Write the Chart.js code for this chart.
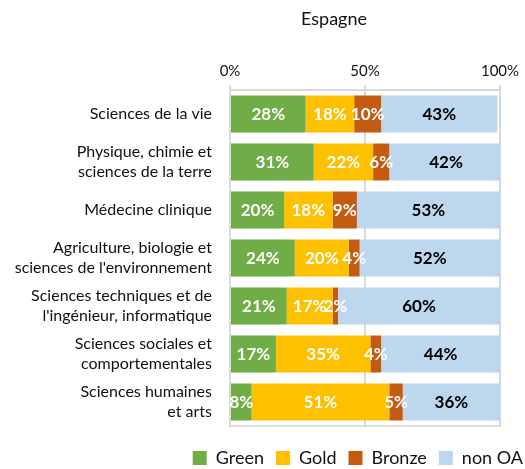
<!DOCTYPE html>
<html>
<head>
<meta charset="utf-8">
<script src="https://cdn.jsdelivr.net/npm/chart.js@4.4.1/dist/chart.umd.min.js"></script>
<style>
  html, body { margin: 0; padding: 0; background: #fff; }
  #wrap { width: 525px; height: 469px; }
</style>
</head>
<body>
<div id="wrap"><canvas id="chart"></canvas></div>
<script>
// open access share per field, Spain (percent of publications)
const fields = [
  ['Sciences de la vie'],
  ['Physique, chimie et', 'sciences de la terre'],
  ['Médecine clinique'],
  ['Agriculture, biologie et', "sciences de l'environnement"],
  ['Sciences techniques et de', "l'ingénieur, informatique"],
  ['Sciences sociales et', 'comportementales'],
  ['Sciences humaines', 'et arts'],
];
const green  = [28, 31, 20, 24, 21, 17, 8];
const gold   = [18, 22, 18, 20, 17, 35, 51];
const bronze = [10, 6, 9, 4, 2, 4, 5];
const nonOA  = [43, 42, 53, 52, 60, 44, 36];
const xTicks = [0, 50, 100];

const FONT = 'Lato, "Open Sans", sans-serif';
const INK = '#111';

// values written in the middle of each segment
const segmentLabels = {
  id: 'segmentLabels',
  afterDatasetsDraw(chart) {
    const { ctx } = chart;
    ctx.save();
    ctx.font = `bold 17px ${FONT}`;
    ctx.textAlign = 'center';
    ctx.textBaseline = 'middle';
    chart.data.datasets.forEach((ds, i) => {
      const meta = chart.getDatasetMeta(i);
      ctx.fillStyle = ds.labelColor;
      meta.data.forEach((bar, j) => {
        ctx.fillText(ds.data[j] + '%', (bar.x + bar.base) / 2, bar.y + 1);
      });
    });
    ctx.restore();
  },
};

// title sits over the bars, a bit left of the plot centre
const topTitle = {
  id: 'topTitle',
  afterDraw(chart, args, opts) {
    const { ctx } = chart;
    ctx.save();
    ctx.font = `18px ${FONT}`;
    ctx.fillStyle = INK;
    ctx.textAlign = 'center';
    ctx.textBaseline = 'middle';
    ctx.fillText(opts.text, opts.x, opts.y);
    ctx.restore();
  },
};

const mk = (label, data, color, labelColor) => ({
  label, data, backgroundColor: color, labelColor,
  borderWidth: 0, barPercentage: 0.77, categoryPercentage: 1,
});

new Chart(document.getElementById('chart'), {
  type: 'bar',
  data: {
    labels: fields,
    datasets: [
      mk('Green', green, '#70AD47', '#fff'),
      mk('Gold', gold, '#FFC000', '#fff'),
      mk('Bronze', bronze, '#C55A11', '#fff'),
      mk('non OA', nonOA, '#BDD7EE', '#000'),
    ],
  },
  options: {
    indexAxis: 'y',
    responsive: true,
    maintainAspectRatio: false,
    animation: false,
    // negative right padding lets the legend run closer to the edge than the plot
    layout: { padding: { top: 40, left: 0, right: -10, bottom: -8 } },
    scales: {
      x: {
        position: 'top',
        stacked: true,
        min: 0,
        max: 100,
        afterBuildTicks: (s) => { s.ticks = xTicks.map((v) => ({ value: v })); },
        afterFit: (s) => { s.height = 50; s.paddingLeft = 0; s.paddingRight = 25; },
        ticks: {
          callback: (v) => v + '%',
          font: { family: FONT, size: 15 },
          color: INK,
          padding: 5,
          maxRotation: 0,
        },
        grid: { color: '#d9d9d9', lineWidth: 2, tickLength: 5 },
        border: { display: true, color: '#d9d9d9', width: 2 },
      },
      x2: {
        position: 'bottom',
        type: 'linear',
        min: 0,
        max: 100,
        ticks: { display: false },
        grid: { display: false, drawTicks: false },
        border: { display: true, color: '#dedede', width: 2 },
        afterFit: (s) => { s.height = 11; s.paddingLeft = 0; s.paddingRight = 25; },
      },
      y: {
        stacked: true,
        afterFit: (s) => { s.width = 230; },
        ticks: {
          font: { family: FONT, size: 16, lineHeight: 1.25 },
          color: INK,
          padding: 18,
        },
        grid: { display: false, drawTicks: false },
        border: { display: false },
      },
    },
    plugins: {
      legend: {
        position: 'bottom',
        align: 'end',
        labels: {
          boxWidth: 14,
          boxHeight: 14,
          padding: 12,
          font: { family: FONT, size: 18 },
          color: INK,
        },
      },
      tooltip: { enabled: false },
      topTitle: { text: 'Espagne', x: 334, y: 19 },
    },
  },
  plugins: [segmentLabels, topTitle],
});
</script>
</body>
</html>
